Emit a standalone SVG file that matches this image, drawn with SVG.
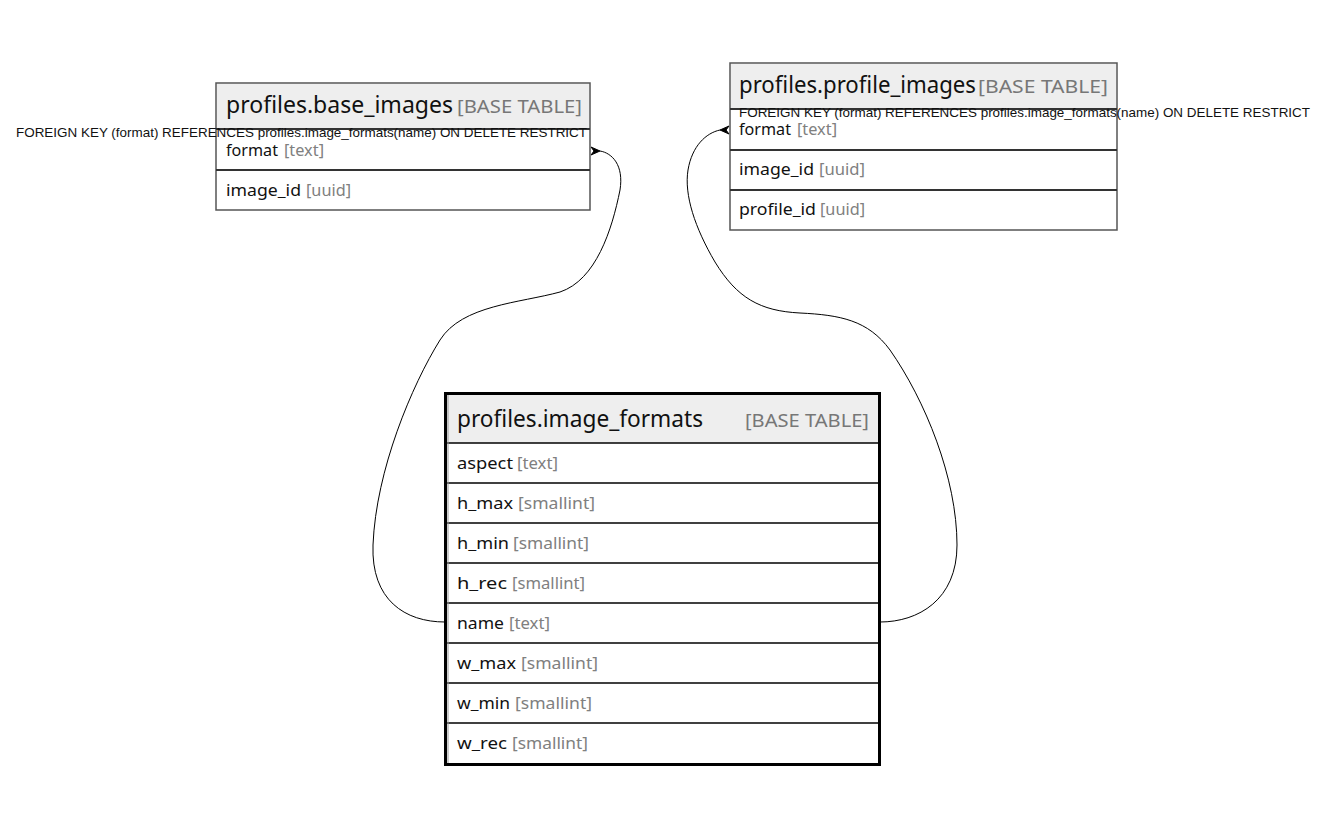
<svg xmlns="http://www.w3.org/2000/svg" width="1320" height="829" viewBox="0 0 1320 829">
<defs>
<style>
.bg{fill:#ffffff}
.hdr{fill:#eeeeee}
.tb{fill:#ffffff;stroke:#555555;stroke-width:1.5}
.sep{stroke:#333333;stroke-width:2}
.tbm{fill:none;stroke:#000000;stroke-width:3}
.tbmi{fill:none;stroke:#999999;stroke-width:1}
.sepm{stroke:#000000;stroke-width:1.5}
.title{font-family:"Noto Sans","Open Sans",sans-serif;font-size:23px;fill:#111111}
.ttype{font-family:"Noto Sans","Open Sans",sans-serif;font-size:18px;fill:#777777}
.col{font-family:"Noto Sans","Open Sans",sans-serif;font-size:17px;fill:#111111}
.ctype{font-family:"Noto Sans","Open Sans",sans-serif;font-size:17px;fill:#808080}
.fk{font-family:"Liberation Sans",Arial,sans-serif;font-size:13px;fill:#111111}
.edge{fill:none;stroke:#000000;stroke-width:1}
.ah{fill:#000000;stroke:#000000;stroke-width:1}
</style>
</defs>
<rect class="bg" x="0" y="0" width="1320" height="829"/>

<g id="connectors">
<path class="edge" d="M445,622 C405,622 371,600 373,545 C376,470 412,385 440,340 C462,305 520,303 560,292 C596,280 612,230 620,190 C624,165 612,153 600,151"/>
<path class="ah" d="M600,151 L591,147 L594,151 L591,155 Z"/>
<path class="edge" d="M880,622 C918,622 957,600 957,545 C957,478 925,400 890,350 C868,320 840,315 800,313 C760,311 737,298 715,262 C695,228 684,195 688,170 C692,146 706,133 720,130"/>
<path class="ah" d="M720,130 L729,126 L726,130 L729,134 Z"/>
</g>

<g id="base_images">
<rect class="tb" x="216" y="83" width="374" height="127"/>
<rect class="hdr" x="217" y="84" width="372" height="45"/>
<line class="sep" x1="216" y1="129" x2="590" y2="129"/>
<line class="sep" x1="216" y1="170" x2="590" y2="170"/>
<text class="title" x="226" y="113" textLength="227" lengthAdjust="spacingAndGlyphs">profiles.base_images</text>
<text class="ttype" x="457" y="113" textLength="125" lengthAdjust="spacingAndGlyphs">[BASE TABLE]</text>
<text class="col" x="226" y="156" textLength="52" lengthAdjust="spacingAndGlyphs">format</text>
<text class="ctype" x="284" y="156" textLength="40" lengthAdjust="spacingAndGlyphs">[text]</text>
<text class="col" x="226" y="196" textLength="75" lengthAdjust="spacingAndGlyphs">image_id</text>
<text class="ctype" x="306" y="196" textLength="45" lengthAdjust="spacingAndGlyphs">[uuid]</text>
<text class="fk" x="16" y="137" textLength="571" lengthAdjust="spacingAndGlyphs">FOREIGN KEY (format) REFERENCES profiles.image_formats(name) ON DELETE RESTRICT</text>
</g>

<g id="profile_images">
<rect class="tb" x="730" y="63" width="387" height="167"/>
<rect class="hdr" x="731" y="64" width="385" height="45"/>
<line class="sep" x1="730" y1="109" x2="1117" y2="109"/>
<line class="sep" x1="730" y1="150" x2="1117" y2="150"/>
<line class="sep" x1="730" y1="190" x2="1117" y2="190"/>
<text class="title" x="739" y="93" textLength="237" lengthAdjust="spacingAndGlyphs">profiles.profile_images</text>
<text class="ttype" x="978" y="93" textLength="130" lengthAdjust="spacingAndGlyphs">[BASE TABLE]</text>
<text class="col" x="739" y="135" textLength="52" lengthAdjust="spacingAndGlyphs">format</text>
<text class="ctype" x="797" y="135" textLength="40" lengthAdjust="spacingAndGlyphs">[text]</text>
<text class="col" x="739" y="175" textLength="75" lengthAdjust="spacingAndGlyphs">image_id</text>
<text class="ctype" x="819" y="175" textLength="46" lengthAdjust="spacingAndGlyphs">[uuid]</text>
<text class="col" x="739" y="215" textLength="77" lengthAdjust="spacingAndGlyphs">profile_id</text>
<text class="ctype" x="820" y="215" textLength="45" lengthAdjust="spacingAndGlyphs">[uuid]</text>
<text class="fk" x="739" y="117" textLength="571" lengthAdjust="spacingAndGlyphs">FOREIGN KEY (format) REFERENCES profiles.image_formats(name) ON DELETE RESTRICT</text>
</g>

<g id="image_formats">
<rect x="445" y="393" width="435" height="372" fill="#ffffff"/>
<rect class="hdr" x="447" y="395" width="431" height="48"/>
<line class="sepm" x1="445" y1="443" x2="880" y2="443"/>
<line class="sepm" x1="445" y1="483" x2="880" y2="483"/>
<line class="sepm" x1="445" y1="523" x2="880" y2="523"/>
<line class="sepm" x1="445" y1="563" x2="880" y2="563"/>
<line class="sepm" x1="445" y1="603" x2="880" y2="603"/>
<line class="sepm" x1="445" y1="643" x2="880" y2="643"/>
<line class="sepm" x1="445" y1="683" x2="880" y2="683"/>
<line class="sepm" x1="445" y1="723" x2="880" y2="723"/>
<rect class="tbm" x="445.5" y="393.5" width="434" height="371"/>
<line class="tbmi" x1="448" y1="395" x2="448" y2="763"/>
<text class="title" x="457" y="427" textLength="246" lengthAdjust="spacingAndGlyphs">profiles.image_formats</text>
<text class="ttype" x="745" y="427" textLength="124" lengthAdjust="spacingAndGlyphs">[BASE TABLE]</text>
<text class="col" x="457" y="469" textLength="56" lengthAdjust="spacingAndGlyphs">aspect</text>
<text class="ctype" x="517" y="469" textLength="41" lengthAdjust="spacingAndGlyphs">[text]</text>
<text class="col" x="457" y="509" textLength="56" lengthAdjust="spacingAndGlyphs">h_max</text>
<text class="ctype" x="518" y="509" textLength="77" lengthAdjust="spacingAndGlyphs">[smallint]</text>
<text class="col" x="457" y="549" textLength="52" lengthAdjust="spacingAndGlyphs">h_min</text>
<text class="ctype" x="513" y="549" textLength="76" lengthAdjust="spacingAndGlyphs">[smallint]</text>
<text class="col" x="457" y="589" textLength="50" lengthAdjust="spacingAndGlyphs">h_rec</text>
<text class="ctype" x="512" y="589" textLength="73" lengthAdjust="spacingAndGlyphs">[smallint]</text>
<text class="col" x="457" y="629" textLength="47" lengthAdjust="spacingAndGlyphs">name</text>
<text class="ctype" x="509" y="629" textLength="41" lengthAdjust="spacingAndGlyphs">[text]</text>
<text class="col" x="457" y="669" textLength="59" lengthAdjust="spacingAndGlyphs">w_max</text>
<text class="ctype" x="521" y="669" textLength="77" lengthAdjust="spacingAndGlyphs">[smallint]</text>
<text class="col" x="457" y="709" textLength="53" lengthAdjust="spacingAndGlyphs">w_min</text>
<text class="ctype" x="515" y="709" textLength="77" lengthAdjust="spacingAndGlyphs">[smallint]</text>
<text class="col" x="457" y="749" textLength="50" lengthAdjust="spacingAndGlyphs">w_rec</text>
<text class="ctype" x="512" y="749" textLength="76" lengthAdjust="spacingAndGlyphs">[smallint]</text>
</g>
</svg>
